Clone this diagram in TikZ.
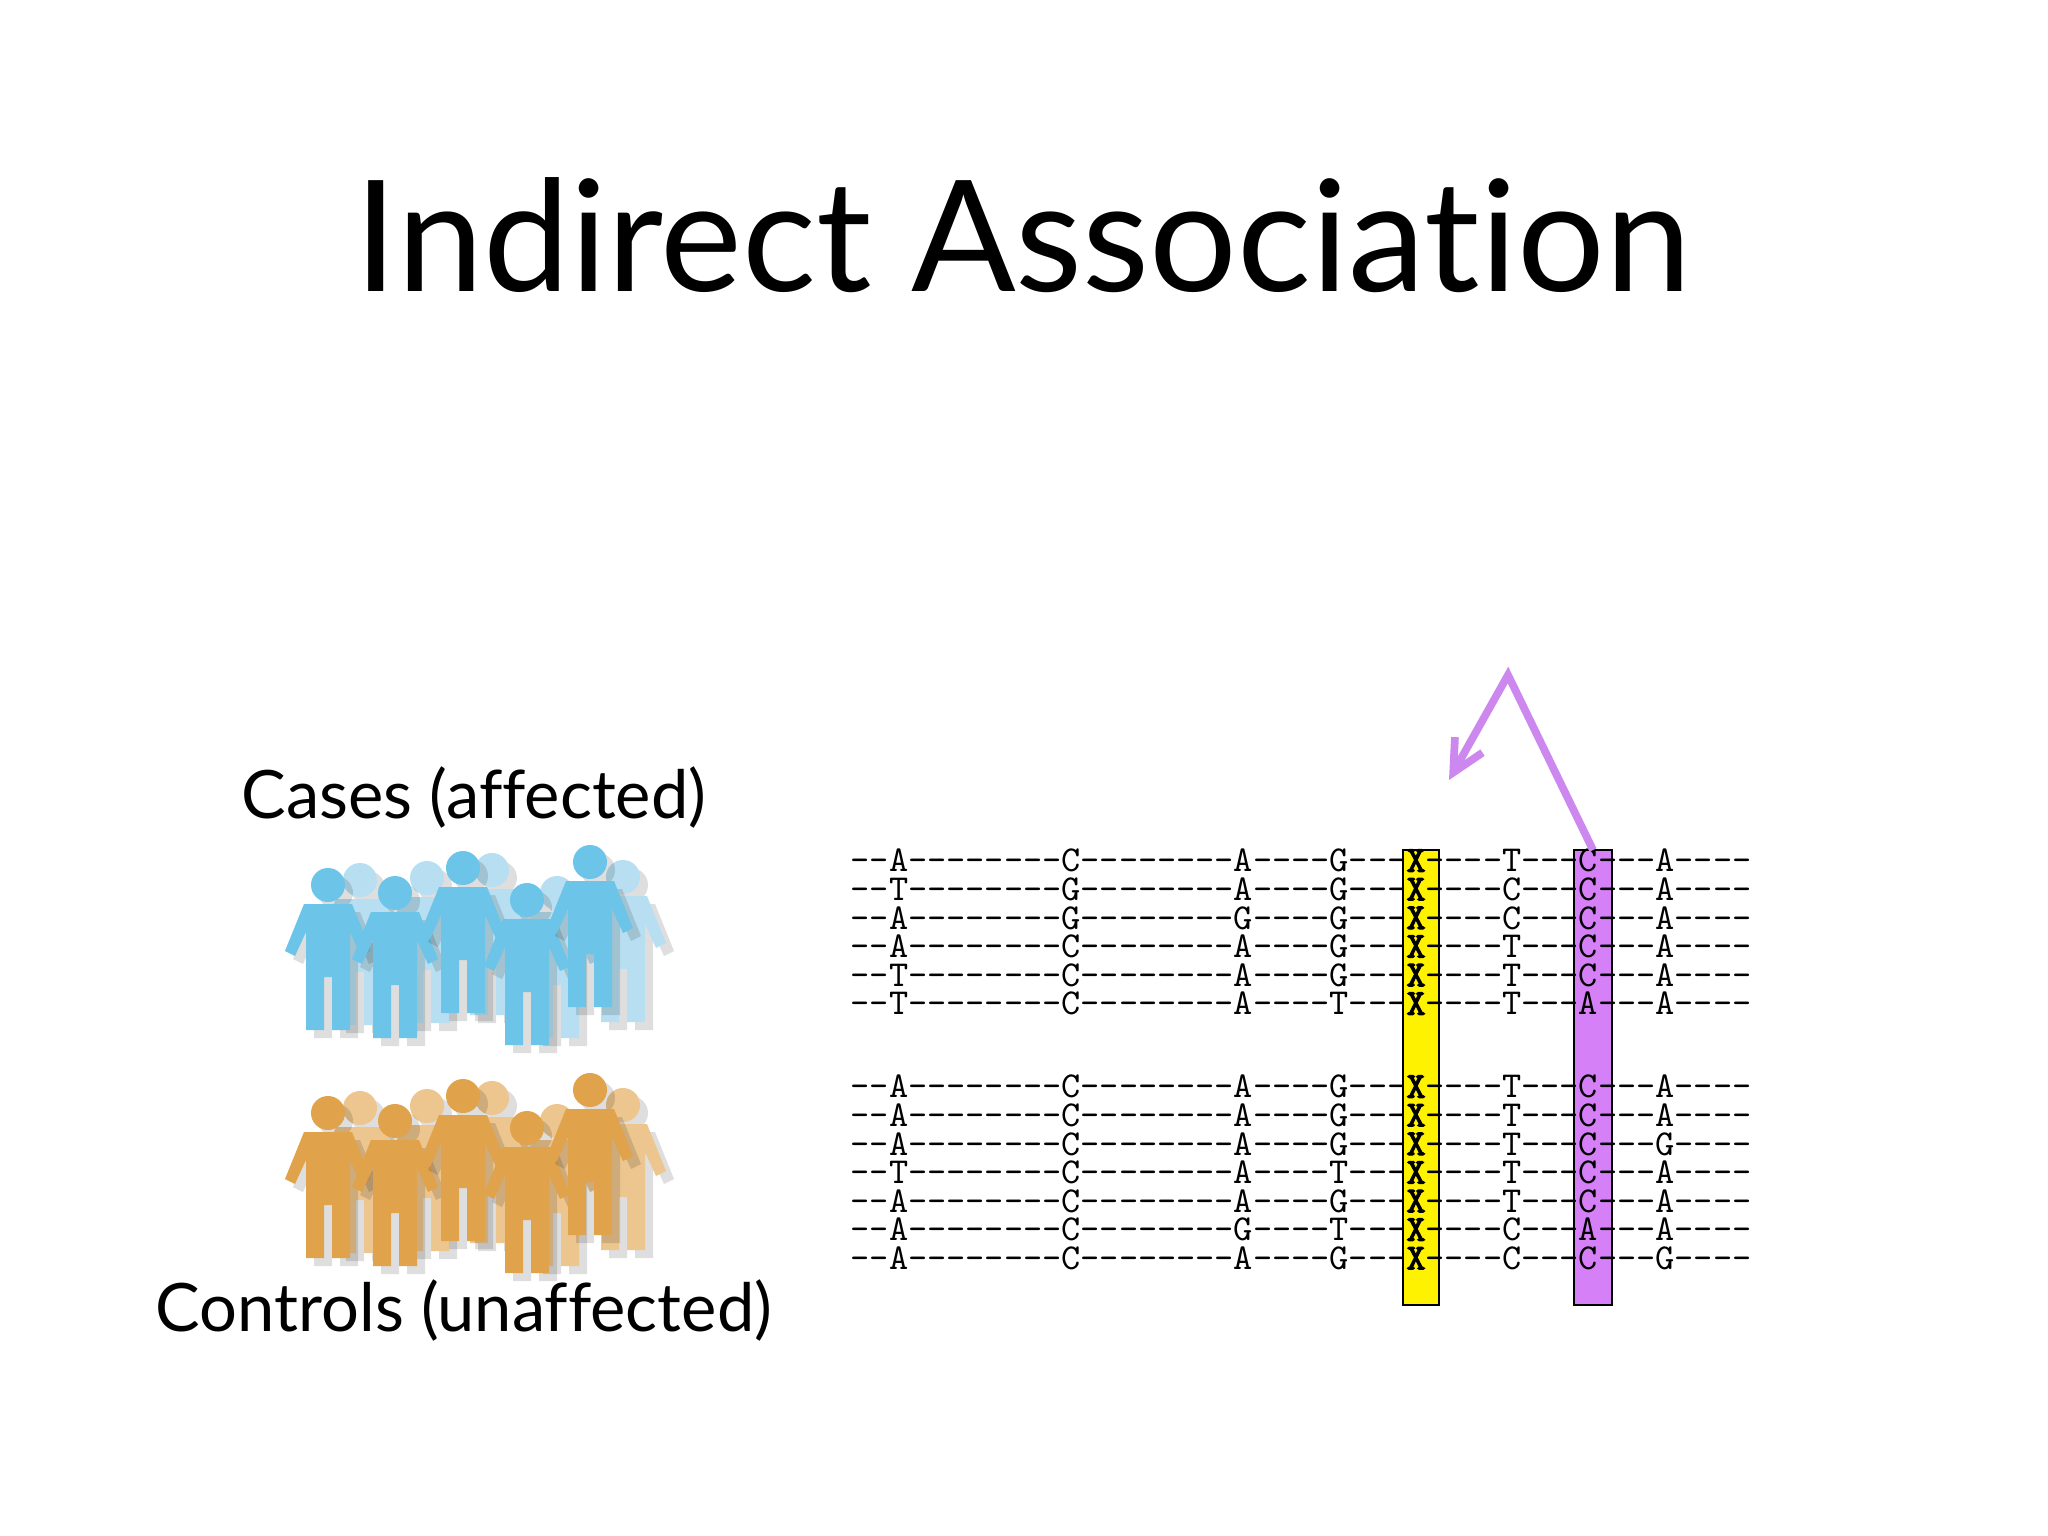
\documentclass[tikz,border=0pt]{standalone}
\usetikzlibrary{arrows.meta}
\usepackage{fontspec}
\setmainfont[Ligatures={NoCommon,NoRare}]{Lato}
\newfontfamily\seqfont{Latin Modern Mono}[BoldFont={Latin Modern Mono},BoldFeatures={FakeBold=3}]
\definecolor{bluedark}{HTML}{6CC4E8}
\definecolor{bluelight}{HTML}{B8DFF1}
\definecolor{orgdark}{HTML}{E0A24A}
\definecolor{orglight}{HTML}{EDC58E}
\definecolor{arrowviolet}{HTML}{CC88EE}
\definecolor{boxviolet}{HTML}{D680F8}
\newcommand\bodypath{(-24,19) -- (24,19) -- (43,66) -- (33,71) -- (22,47) -- (22,145) -- (4,145) -- (4,92) -- (-4,92) -- (-4,145) -- (-22,145) -- (-22,47) -- (-33,71) -- (-43,66) -- cycle}
\newcommand\personfig[3]{%
 \begin{scope}[shift={(#1,#2)}]
  \begin{scope}[shift={(8,8)}]
   \fill[black,opacity=0.13] (0,0) circle (17);
   \fill[black,opacity=0.13] \bodypath;
  \end{scope}
  \fill[#3] (0,0) circle (17);
  \fill[#3] \bodypath;
 \end{scope}}
\tikzset{seqrow/.style={anchor=west,inner sep=0pt,text height=5pt,text depth=0pt,font=\seqfont\fontsize{10.38pt}{11pt}\selectfont},
 lbl/.style={font=\fontsize{19pt}{22pt}\selectfont,inner sep=0pt}}
\begin{document}
\begin{tikzpicture}[x=0.01cm,y=-0.01cm]
\useasboundingbox (0,0) rectangle (2048,1536);
\fill[white] (0,0) rectangle (2048,1536);
\node[font=\fontsize{44pt}{48pt}\selectfont,inner sep=0pt] (title) at (1023,235) {Indirect Association};
\node[lbl] (cases) at (474,797) {Cases (affected)};
\node[lbl] (controls) at (464,1310) {Controls (unaffected)};
% people
\foreach \dy/\cd/\cl in {0/bluedark/bluelight,228/orgdark/orglight}{
 \foreach \hx/\hy in {360/880,427/878,492/870,557/893,623/877}{\personfig{\hx}{\hy+\dy}{\cl}}
 \foreach \hx/\hy in {328/885,395/893,463/868,527/900,590/862}{\personfig{\hx}{\hy+\dy}{\cd}}
}
% highlight columns
\draw[fill=yellow,line width=0.6pt] (1403,850) rectangle (1439,1305);
\draw[fill=boxviolet,line width=0.6pt] (1574,850) rectangle (1612,1305);
% rows
\foreach \i/\s in {0/--A--------C--------A----G---\textbf{X}----T---C---A----,
 1/--T--------G--------A----G---\textbf{X}----C---C---A----,
 2/--A--------G--------G----G---\textbf{X}----C---C---A----,
 3/--A--------C--------A----G---\textbf{X}----T---C---A----,
 4/--T--------C--------A----G---\textbf{X}----T---C---A----,
 5/--T--------C--------A----T---\textbf{X}----T---A---A----}{
 \node[seqrow] (r\i) at (850,863+28.6*\i) {\s};}
\foreach \i/\s in {0/--A--------C--------A----G---\textbf{X}----T---C---A----,
 1/--A--------C--------A----G---\textbf{X}----T---C---A----,
 2/--A--------C--------A----G---\textbf{X}----T---C---G----,
 3/--T--------C--------A----T---\textbf{X}----T---C---A----,
 4/--A--------C--------A----G---\textbf{X}----T---C---A----,
 5/--A--------C--------G----T---\textbf{X}----C---A---A----,
 6/--A--------C--------A----G---\textbf{X}----C---C---G----}{
 \node[seqrow] (s\i) at (850,1089+28.6*\i) {\s};}
% arrow
\coordinate (astart) at (1593,850);
\coordinate (apex) at (1508,675);
\coordinate (atip) at (1449,780);
\draw[arrowviolet,line width=2.2pt,-{Straight Barb[length=9pt,width=9pt]},line join=miter] (astart) -- (apex) -- (atip);
\end{tikzpicture}
\end{document}
